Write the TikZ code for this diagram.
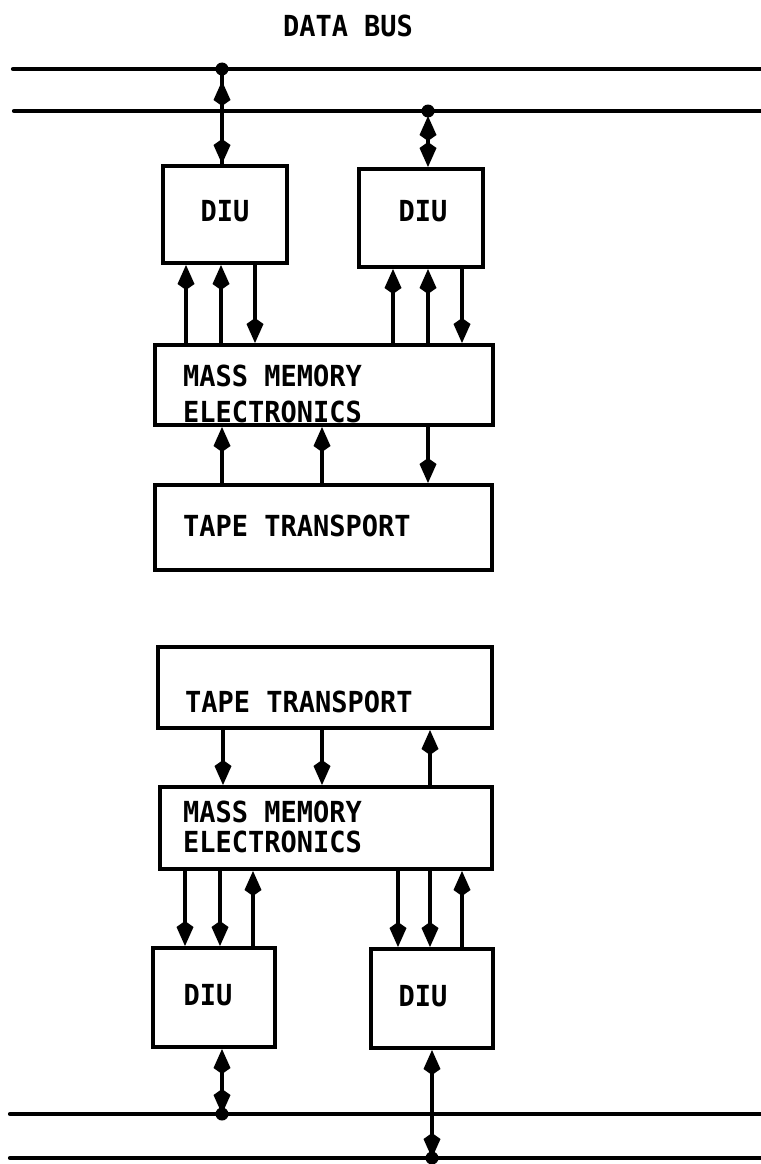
\documentclass[tikz,border=0pt]{standalone}
\usepackage{fontspec}
\newfontfamily\lblfont[FakeStretch=0.93]{DejaVu Sans Mono Bold}
\usetikzlibrary{arrows.meta}
\tikzset{
  box/.style={draw, line width=4pt, rectangle, inner sep=0pt},
  lbl/.style={font=\lblfont\fontsize{29}{35}\selectfont, inner sep=0pt},
  wire/.style={line width=3.8pt},
  tip/.tip={Kite[length=25pt,width=17pt,inset=6pt]},
  arr/.style={wire, -tip},
  biarr/.style={wire, tip-tip},
  bus/.style={line width=4.2pt, line cap=round},
  junction/.style={circle, fill, inner sep=0pt, minimum size=13pt}
}
\begin{document}
\begin{tikzpicture}[x=1pt, y=-1pt]
\useasboundingbox (0,0) rectangle (760,1164);
% ---------- top half ----------
\node[lbl] (tdb) at (348,26) {DATA BUS};
\coordinate (b1w) at (13,69);  \coordinate (b1e) at (762,69);
\coordinate (b2w) at (14,111); \coordinate (b2e) at (762,111);
\draw[bus] (b1w) -- (b1e);
\draw[bus] (b2w) -- (b2e);
\node[junction] (j1) at (222,69) {};
\node[junction] (j2) at (428,111) {};

\node[box, minimum width=124pt, minimum height=97pt] (diu1) at (225,214.5) {};
\node[box, minimum width=124pt, minimum height=98pt] (diu2) at (421,218) {};
\node[lbl] (td1) at (225,211) {DIU};
\node[lbl] (td2) at (423,211) {DIU};

\node[box, minimum width=338pt, minimum height=80pt] (mme1) at (324,385) {};
\node[lbl, anchor=west] (tm1a) at (183,376) {MASS MEMORY};
\node[lbl, anchor=west] (tm1b) at (183,412) {ELECTRONICS};

\node[box, minimum width=337pt, minimum height=85pt] (tt1) at (323.5,527.5) {};
\node[lbl, anchor=west] (tt1t) at (183,526) {TAPE TRANSPORT};

% bus to DIU
\draw[wire] (j1.center) -- (diu1.north -| j1.center);
\draw[biarr, shorten <=12pt] (j1.center) -- (diu1.north -| j1.center);
\draw[biarr, shorten <=5pt] (j2.center) -- (diu2.north -| j2.center);

% DIU to MME
\draw[arr] (mme1.north -| 186,0) -- (diu1.south -| 186,0);
\draw[arr] (mme1.north -| 221,0) -- (diu1.south -| 221,0);
\draw[arr] (diu1.south -| 255,0) -- (mme1.north -| 255,0);
\draw[arr] (mme1.north -| 393,0) -- (diu2.south -| 393,0);
\draw[arr] (mme1.north -| 428,0) -- (diu2.south -| 428,0);
\draw[arr] (diu2.south -| 462,0) -- (mme1.north -| 462,0);

% MME to tape
\draw[arr] (tt1.north -| 222,0) -- (mme1.south -| 222,0);
\draw[arr] (tt1.north -| 322,0) -- (mme1.south -| 322,0);
\draw[arr] (mme1.south -| 428,0) -- (tt1.north -| 428,0);

% ---------- bottom half ----------
\node[box, minimum width=334pt, minimum height=81pt] (tt2) at (325,687.5) {};
\node[lbl, anchor=west] (tt2t) at (185,702) {TAPE TRANSPORT};

\node[box, minimum width=332pt, minimum height=82pt] (mme2) at (326,828) {};
\node[lbl, anchor=west] (tm2a) at (183,812) {MASS MEMORY};
\node[lbl, anchor=west] (tm2b) at (183,842) {ELECTRONICS};

\node[box, minimum width=122pt, minimum height=99pt] (diu3) at (214,997.5) {};
\node[box, minimum width=122pt, minimum height=99pt] (diu4) at (432,998.5) {};
\node[lbl] (td3) at (208,995) {DIU};
\node[lbl] (td4) at (423,996) {DIU};

\coordinate (b3w) at (10,1114); \coordinate (b3e) at (762,1114);
\coordinate (b4w) at (10,1158); \coordinate (b4e) at (762,1158);
\draw[bus] (b3w) -- (b3e);
\draw[bus] (b4w) -- (b4e);
\node[junction] (j3) at (222,1114) {};
\node[junction] (j4) at (432,1158) {};

% tape to MME
\draw[arr] (tt2.south -| 223,0) -- (mme2.north -| 223,0);
\draw[arr] (tt2.south -| 322,0) -- (mme2.north -| 322,0);
\draw[arr] (mme2.north -| 430,0) -- (tt2.south -| 430,0);

% MME to DIU
\draw[arr] (mme2.south -| 185,0) -- (diu3.north -| 185,0);
\draw[arr] (mme2.south -| 220,0) -- (diu3.north -| 220,0);
\draw[arr] (diu3.north -| 253,0) -- (mme2.south -| 253,0);
\draw[arr] (mme2.south -| 398,0) -- (diu4.north -| 398,0);
\draw[arr] (mme2.south -| 430,0) -- (diu4.north -| 430,0);
\draw[arr] (diu4.north -| 462,0) -- (mme2.south -| 462,0);

% DIU to bus
\draw[biarr] (diu3.south -| j3.center) -- (j3.center);
\draw[biarr] (diu4.south -| j4.center) -- (j4.center);
\end{tikzpicture}
\end{document}
